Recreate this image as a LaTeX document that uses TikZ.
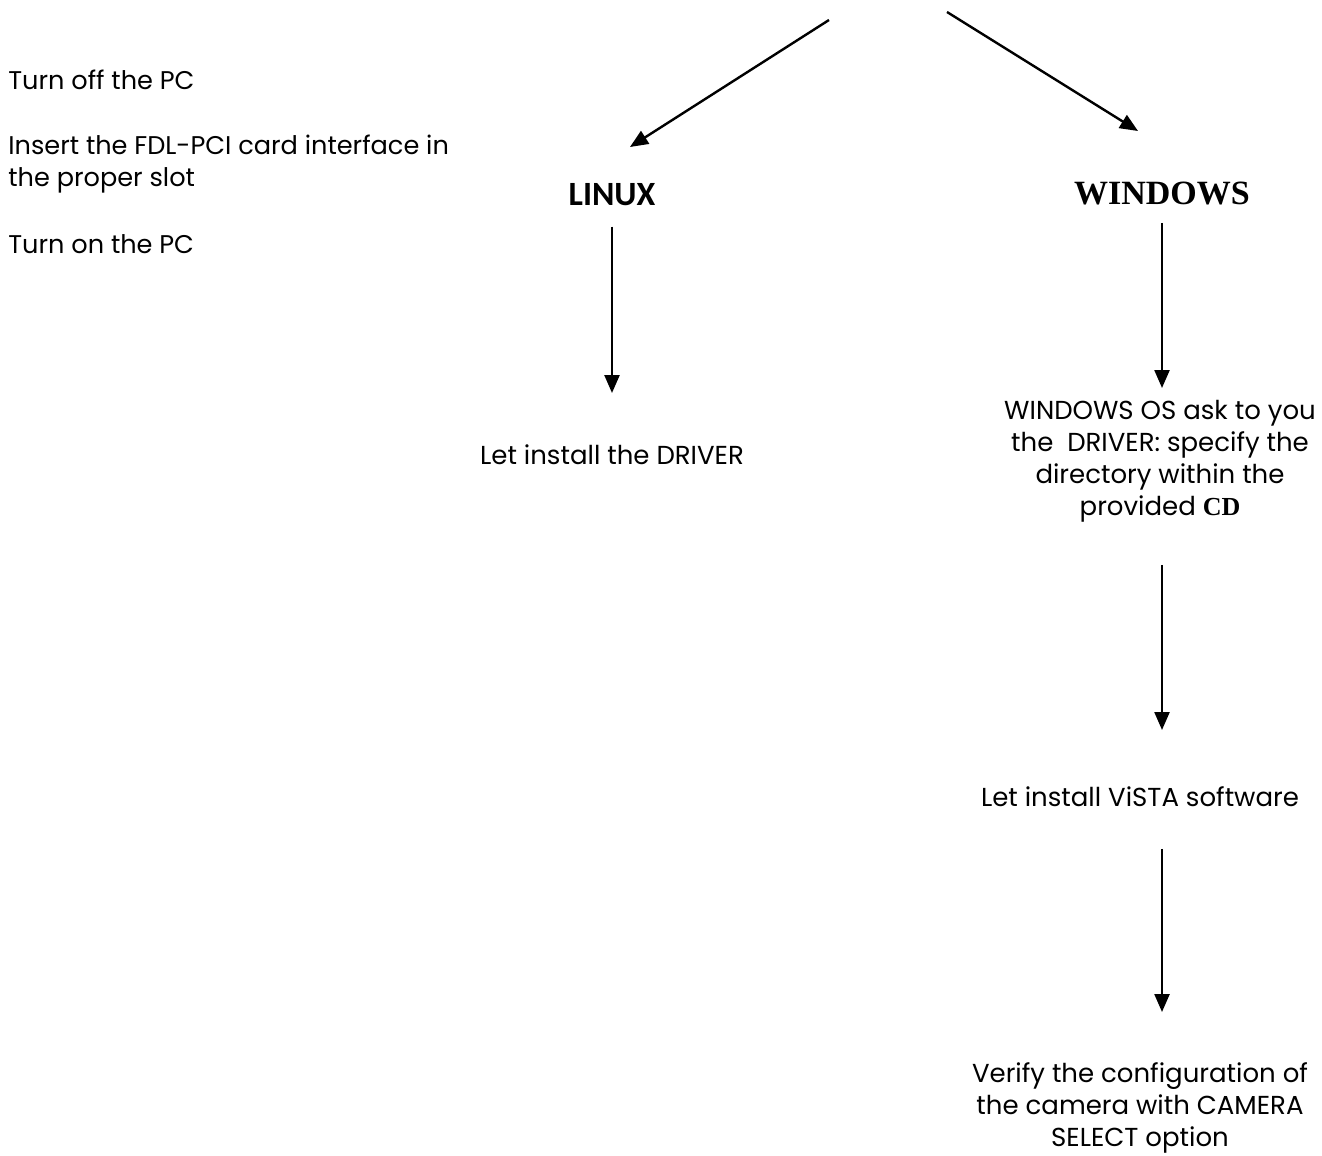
\documentclass[tikz,border=0pt]{standalone}
\usepackage{fontspec}
\setmainfont{Poppins}
\newfontfamily\linuxfont{Carlito}
\newfontfamily\timesfont{Liberation Serif}
\usetikzlibrary{arrows.meta, positioning}
\tikzset{
  steptext/.style={font=\fontsize{13}{16}\selectfont, inner sep=0pt, align=center, anchor=north},
  prep/.style={font=\fontsize{12.8}{15.8}\selectfont, inner sep=0pt, align=left, anchor=north west},
  flow/.style={-{Triangle[length=9pt,width=7.5pt]}, line width=1.2pt},
}
\begin{document}
\begin{tikzpicture}[x=0.5pt, y=-0.5pt]
  \useasboundingbox (0,0) rectangle (1322,1156);
%% preparation steps
  \node[prep] (off) at (8,70) {Turn off the PC};
  \node[prep] (insert) at (8,135) {Insert the FDL-PCI card interface in\\the proper slot};
  \node[prep] (on) at (8,234) {Turn on the PC};
%% the two systems
  \coordinate (forkl) at (829,20);
  \coordinate (forkr) at (947,12);
  \coordinate (tipl) at (630,147);
  \coordinate (tipr) at (1138,131);
  \node[inner sep=0pt, font=\linuxfont\bfseries\fontsize{17}{20}\selectfont] (linux) at (612,195) {LINUX};
  \node[inner sep=0pt, font=\timesfont\bfseries\fontsize{17}{20}\selectfont] (windows) at (1162,193) {WINDOWS};
  \draw[flow] (forkl) -- (tipl);
  \draw[flow] (forkr) -- (tipr);
%% linux branch
  \node[steptext] (driver) at (612,444) {Let install the DRIVER};
  \draw[flow, shorten <=10pt, shorten >=25.5pt] (linux) -- (linux |- driver.north);
%% windows branch
  \node[steptext] (ask) at (1160,400) {WINDOWS OS ask to you\\the \ DRIVER: specify the\\directory within the\\provided {\timesfont\bfseries CD}};
  \node[steptext] (vista) at (1140,786) {Let install ViSTA software};
  \node[steptext] (verify) at (1140,1062) {Verify the configuration of\\the camera with CAMERA\\SELECT option};
  \draw[flow, shorten <=9pt, shorten >=6pt] (windows) -- (windows |- ask.north);
  \draw[flow, shorten <=21pt, shorten >=28pt] (windows |- ask.south) -- (windows |- vista.north);
  \draw[flow, shorten <=21pt, shorten >=25pt] (windows |- vista.south) -- (windows |- verify.north);
\end{tikzpicture}
\end{document}
